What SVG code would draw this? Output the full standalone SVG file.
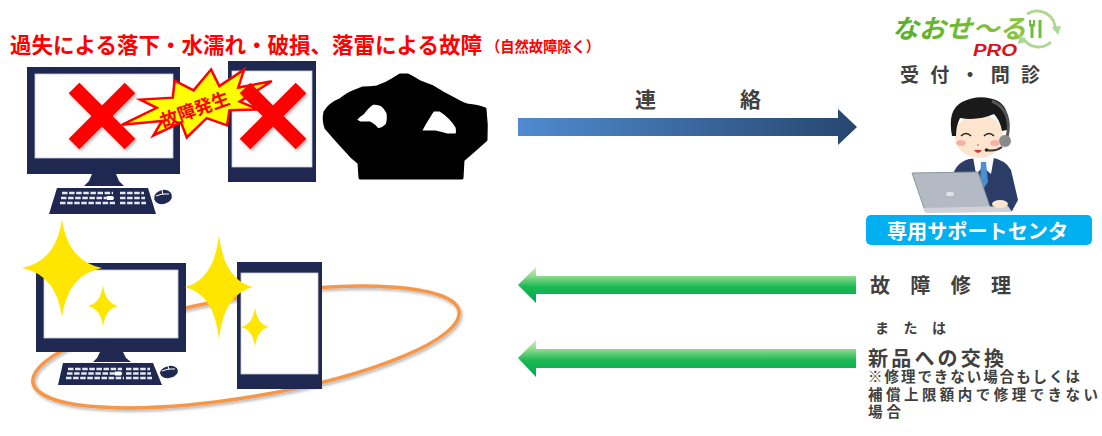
<svg xmlns="http://www.w3.org/2000/svg" width="1102" height="436" viewBox="0 0 1102 436">
  <defs>
    <style>
      .jp{font-family:'Noto Sans CJK JP','Noto Sans',sans-serif;font-weight:700}
      .red{fill:#ff0000}
      .gray{fill:#404040}
      .navy{fill:#1f2850}
      .screen{fill:#ffffff;stroke:#c8cddb;stroke-width:0.8}
      .key{stroke:#e6e9f2;stroke-width:2.6;stroke-dasharray:5.5 1.6;fill:none}
      .spark{fill:#ffe600}
      .cross{stroke:#ff0000;stroke-width:15;fill:none}
    </style>
    <linearGradient id="gBlue" x1="0" y1="0" x2="1" y2="0">
      <stop offset="0" stop-color="#4f8bd0"/>
      <stop offset="1" stop-color="#26466f"/>
    </linearGradient>
    <linearGradient id="gGreen" x1="0" y1="0" x2="0" y2="1">
      <stop offset="0" stop-color="#c6eec2"/>
      <stop offset="0.25" stop-color="#8edb8b"/>
      <stop offset="0.55" stop-color="#1cb855"/>
      <stop offset="1" stop-color="#00a84a"/>
    </linearGradient>
    <linearGradient id="gLogo" x1="0" y1="0" x2="1" y2="0">
      <stop offset="0" stop-color="#55ad2c"/>
      <stop offset="1" stop-color="#8cc63f"/>
    </linearGradient>
    <filter id="shadow" x="-20%" y="-20%" width="140%" height="150%">
      <feDropShadow dx="1.5" dy="2" stdDeviation="1.5" flood-color="#000" flood-opacity="0.3"/>
    </filter>
  </defs>

  <rect width="1102" height="436" fill="#ffffff"/>

  <!-- heading -->
  <g id="title">
    <text class="jp red" x="10" y="53" font-size="22" textLength="472" lengthAdjust="spacingAndGlyphs">過失による落下・水濡れ・破損、落雷による故障</text>
    <text class="jp red" x="486" y="52" font-size="15" textLength="114" lengthAdjust="spacingAndGlyphs">（自然故障除く）</text>
  </g>

  <!-- broken desktop PC -->
  <g id="pc-broken">
    <rect class="navy" x="27" y="67" width="153" height="107"/>
    <rect class="screen" x="35" y="74" width="138" height="84"/>
    <polygon class="navy" points="92,174 116,174 119,181 124,186 84,186 89,181"/>
    <polygon class="navy" points="57,188 148,188 156,214 49,214"/>
    <line class="key" x1="62" y1="193" x2="113" y2="193"/>
    <line class="key" x1="61" y1="198" x2="114" y2="198"/>
    <line class="key" x1="60" y1="203" x2="115" y2="203"/>
    <line class="key" x1="120" y1="193" x2="144" y2="193"/>
    <line class="key" x1="120" y1="198" x2="145" y2="198"/>
    <line class="key" x1="120" y1="203" x2="146" y2="203"/>
    <rect x="107" y="196" width="6" height="4" fill="#ffffff"/>
    <ellipse class="navy" cx="163" cy="197" rx="9" ry="7" transform="rotate(-15 163 197)"/>
    <path d="M156,196 Q162,193 169,194 M162,190 L163,195" stroke="#ffffff" stroke-width="1" fill="none"/>
  </g>

  <!-- broken tablet -->
  <g id="tablet-broken">
    <rect class="navy" x="228" y="61" width="88" height="121"/>
    <rect class="screen" x="232" y="71" width="80" height="96"/>
  </g>

  <!-- failure marks -->
  <g id="cross-pc" filter="url(#shadow)">
    <line class="cross" x1="74" y1="88" x2="130" y2="144"/>
    <line class="cross" x1="130" y1="88" x2="74" y2="144"/>
  </g>
  <g id="burst">
    <polygon points="-78,2 -40,-6 -54,-18 -22,-12 -16,-28 0,-14 22,-30 26,-12 54,-22 44,-6 78,-4 42,8 58,20 30,14 24,28 6,16 -18,30 -20,14 -50,20 -38,8" transform="translate(197,104) rotate(-14)" fill="#ffff00" stroke="#ff0000" stroke-width="2.5" stroke-linejoin="miter"/>
    <text class="jp red" x="0" y="6" font-size="18" text-anchor="middle" transform="translate(195,110) rotate(-20)">故障発生</text>
  </g>
  <g id="cross-tablet" filter="url(#shadow)">
    <line class="cross" x1="245" y1="88" x2="301" y2="144"/>
    <line class="cross" x1="301" y1="88" x2="245" y2="144"/>
  </g>

  <!-- troubled user silhouette -->
  <g id="user">
    <path fill="#000000" stroke="#000000" stroke-width="3" stroke-linejoin="round" fill-rule="evenodd" d="M325,112 Q330,104 340,100 Q348,94 353,92 L363,88 Q370,88 377,87 Q386,84 392,80 L400,75 L408,75 Q414,78 420,82 L433,87 Q438,90 443,93 L460,102 Q464,104 467,105 Q478,106 485,109 Q487,125 486,140 Q475,150 463,160 L462,178 L360,178 L359,163 Q356,160 352,157 Q338,142 326,128 Q323,120 325,112 Z M355,120 Q358,116 363,113 Q368,106 373,103 Q378,103 382,105 Q386,108 388,113 Q389,120 387,125 Q383,129 378,130 Q374,125 370,123 L360,123 Z M420,132 Q424,124 428,118 Q431,113 433,110 L440,110 Q445,113 450,118 Q454,122 457,127 Q458,131 457,135 L447,135 Q440,133 435,132 Z"/>
  </g>

  <!-- repaired devices -->
  <g id="ring" filter="url(#shadow)">
    <ellipse cx="246" cy="347" rx="216" ry="50" transform="rotate(-9.5 246 347)" fill="none" stroke="#f79646" stroke-width="3.5"/>
  </g>
  <g id="pc-fixed">
    <rect class="navy" x="36" y="263" width="150" height="89"/>
    <rect class="screen" x="44" y="270" width="134" height="68"/>
    <polygon class="navy" points="100,352 123,352 126,358 131,362 93,362 97,358"/>
    <polygon class="navy" points="63,363 153,363 162,385 58,385"/>
    <line class="key" x1="68" y1="369" x2="122" y2="369"/>
    <line class="key" x1="67" y1="373.5" x2="123" y2="373.5"/>
    <line class="key" x1="66" y1="378" x2="124" y2="378"/>
    <line class="key" x1="126" y1="369" x2="150" y2="369"/>
    <line class="key" x1="126" y1="373.5" x2="151" y2="373.5"/>
    <line class="key" x1="126" y1="378" x2="152" y2="378"/>
    <rect x="115" y="371.5" width="6" height="4" fill="#ffffff"/>
    <ellipse class="navy" cx="169" cy="372" rx="9" ry="6" transform="rotate(-12 169 372)"/>
    <path d="M162,371 Q168,368 175,369 M168,366 L169,370" stroke="#ffffff" stroke-width="1" fill="none"/>
  </g>
  <g id="tablet-fixed">
    <rect class="navy" x="237" y="262" width="85" height="127"/>
    <rect class="screen" x="241" y="273" width="77" height="101"/>
  </g>
  <g id="sparkles">
    <path class="spark" d="M62,219 Q67.6,261.1 102,268 Q67.6,274.9 62,317 Q56.4,274.9 22,268 Q56.4,261.1 62,219Z"/>
    <path class="spark" d="M103,285 Q105.1,303 118,306 Q105.1,309 103,327 Q100.9,309 88,306 Q100.9,303 103,285Z"/>
    <path class="spark" d="M219,235 Q223.8,279.7 253,287 Q223.8,294.3 219,339 Q214.2,294.3 185,287 Q214.2,279.7 219,235Z"/>
    <path class="spark" d="M255,307 Q257,324.2 269,327 Q257,329.8 255,347 Q253,329.8 241,327 Q253,324.2 255,307Z"/>
  </g>

  <!-- support centre -->
  <g id="logo">
    <text class="jp" x="892" y="38" font-size="26" font-style="italic" fill="url(#gLogo)" textLength="134" lengthAdjust="spacingAndGlyphs">なおせ〜る</text>
    <text x="973" y="56" font-family="'Liberation Sans',Arial,sans-serif" font-size="16" font-weight="700" font-style="italic" fill="#d7141d" textLength="44" lengthAdjust="spacingAndGlyphs">PRO</text>
    <g fill="none" stroke="#acd98f" stroke-width="3">
      <path d="M1027,14 A18,18 0 0 1 1055,31"/>
      <path d="M1051,42 A18,18 0 0 1 1023,38"/>
    </g>
    <polygon points="1052,27 1058,35 1061,26" fill="#acd98f"/>
    <polygon points="1026,42 1020,34 1018,44" fill="#acd98f"/>
    <g fill="#6cbf3c">
      <path d="M1029,20 L1031,20 L1031,24 L1033,24 L1033,20 L1035,20 L1035,26 L1033.5,27 L1033.5,38 L1030.5,38 L1030.5,27 L1029,26 Z"/>
      <rect x="1038.5" y="20" width="3" height="18"/>
    </g>
  </g>
  <g id="reception">
    <text class="jp gray" x="900" y="82" font-size="19" textLength="140">受付・問診</text>
  </g>
  <g id="operator">
    <path d="M952,178 Q955,163 969,159 L990,157 Q1006,160 1011,170 L1018,200 L1012,211 L958,211 Z" fill="#2b3d66"/>
    <path d="M973,157 L994,157 L991,174 L983,167 L976,174 Z" fill="#ffffff"/>
    <path d="M981,162 L986,162 L988,182 L984,188 L980,182 Z" fill="#4a8fd0"/>
    <ellipse cx="979" cy="136" rx="24" ry="22" fill="#fde5cf"/>
    <ellipse cx="1003" cy="140" rx="4" ry="5" fill="#fde5cf"/>
    <path d="M952,136 Q947,110 962,102 Q980,93 998,101 Q1011,109 1007,130 L1002,131 Q1000,120 994,114 Q978,121 960,118 Q956,126 956,136 Z" fill="#1a1a1a"/>
    <path d="M992,101 Q1013,110 1007,138" stroke="#555555" stroke-width="3" fill="none"/>
    <circle cx="1005" cy="141" r="6" fill="#8a8a8a"/>
    <path d="M1002,147 Q995,152 987,150" stroke="#333333" stroke-width="2" fill="none"/>
    <circle cx="986.5" cy="150" r="1.8" fill="#222222"/>
    <path d="M961,136 Q966,131 971,136 M984,136 Q989,131 994,136" stroke="#222222" stroke-width="1.6" fill="none"/>
    <ellipse cx="961" cy="143" rx="5" ry="3" fill="#f7b0aa"/>
    <ellipse cx="995" cy="143" rx="5" ry="3" fill="#f7b0aa"/>
    <circle cx="978" cy="145" r="0.9" fill="#d08080"/>
    <path d="M974,150 Q978,156 982,150 Z" fill="#e0313a"/>
    <polygon points="912,173 978,172 991,210 925,211" fill="#b4bac3" stroke="#8f959e" stroke-width="1"/>
    <ellipse cx="950" cy="194" rx="4" ry="2.2" fill="#dfe3e8"/>
    <polygon points="923,208 1008,206 1012,212 926,213" fill="#cfd3d9"/>
    <ellipse cx="1000" cy="204" rx="8" ry="4" fill="#fde5cf"/>
  </g>
  <g id="support-centre">
    <rect x="866" y="215" width="226" height="30" rx="5" fill="#00b0f0"/>
    <text class="jp" x="887" y="239" font-size="20" fill="#ffffff" textLength="181" lengthAdjust="spacingAndGlyphs">専用サポートセンタ</text>
  </g>

  <!-- outcomes -->
  <g id="outcomes">
    <text class="jp gray" x="870" y="293" font-size="20" textLength="141">故障修理</text>
    <text class="jp gray" x="875" y="333" font-size="14" textLength="71">または</text>
    <text class="jp gray" x="868" y="366" font-size="20" textLength="136">新品への交換</text>
    <text class="jp gray" x="868" y="382" font-size="14.5" textLength="212">※修理できない場合もしくは</text>
    <text class="jp gray" x="868" y="399.5" font-size="14.5" textLength="230">補償上限額内で修理できない</text>
    <text class="jp gray" x="868" y="417" font-size="14.5" textLength="33">場合</text>
  </g>

  <!-- connectors -->
  <g id="connectors">
    <polygon points="518,118 838,118 838,109 857,127 838,145 838,136 518,136" fill="url(#gBlue)"/>
    <text class="jp gray" x="635" y="107" font-size="21">連</text>
    <text class="jp gray" x="740" y="107" font-size="21">絡</text>
    <polygon points="856,276 536,276 536,267 518,285 536,303 536,294 856,294" fill="url(#gGreen)"/>
    <polygon points="856,349 536,349 536,340 518,358 536,377 536,368 856,368" fill="url(#gGreen)"/>
  </g>
</svg>
